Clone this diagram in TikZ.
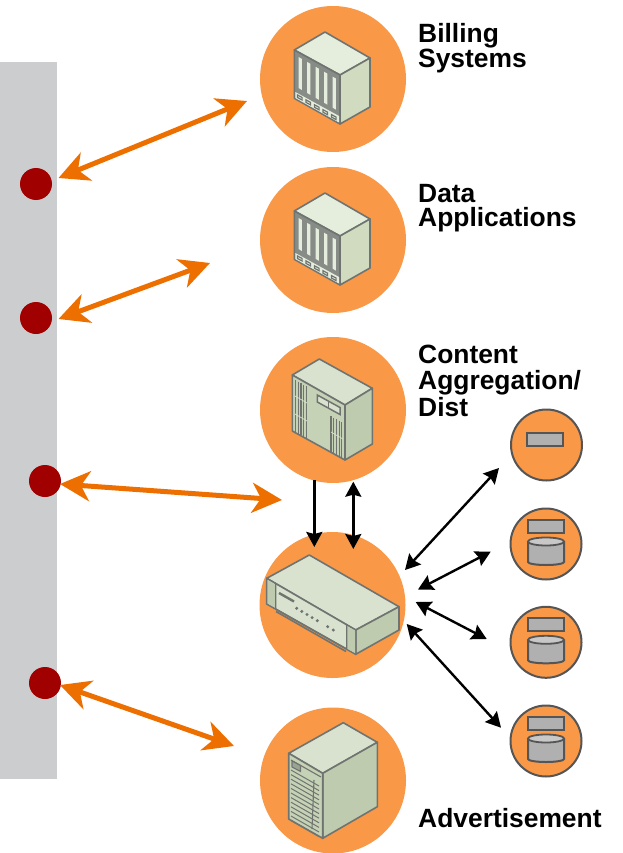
\documentclass[tikz,border=0pt]{standalone}
\usepackage{fontspec}
\setmainfont{Liberation Sans}
\usetikzlibrary{arrows.meta}
\definecolor{orangeC}{HTML}{F99846}
\definecolor{arrowO}{HTML}{EC6F00}
\definecolor{barG}{HTML}{CCCDCF}
\definecolor{dotR}{HTML}{A00000}
\definecolor{edgeG}{HTML}{707471}
\definecolor{topA}{HTML}{E5EEDD}
\definecolor{sideA}{HTML}{D0DBBF}
\definecolor{topB}{HTML}{D9E2CF}
\definecolor{sideB}{HTML}{BECBAE}
\definecolor{frontB}{HTML}{C6D2B5}
\definecolor{miniG}{HTML}{B0B0B0}
\definecolor{miniE}{HTML}{555555}
\tikzset{
  x=1pt,y=-1pt,
  bigdisc/.style={circle,fill=orangeC,minimum size=146pt,inner sep=0pt},
  smalldisc/.style={circle,fill=orangeC,draw=miniE,line width=2pt,minimum size=71pt,inner sep=0pt},
  reddot/.style={circle,fill=dotR,minimum size=32pt,inner sep=0pt},
  label/.style={anchor=north west,align=left,inner sep=0pt,font=\fontsize{26.4}{24}\selectfont\bfseries},
  oarrow/.style={draw=arrowO,line width=5pt,{Stealth[length=30pt,width=30pt,inset=9pt]}-{Stealth[length=30pt,width=30pt,inset=9pt]}},
  karrow/.style={draw=black,line width=2.4pt,{Stealth[length=15pt,width=16pt,inset=2pt]}-{Stealth[length=15pt,width=16pt,inset=2pt]}},
  karrowone/.style={draw=black,line width=2.7pt,-{Stealth[length=15pt,width=16pt,inset=2pt]}},
  boxedge/.style={draw=edgeG,line width=1.6pt,line join=round},
  minibox/.style={draw=miniE,fill=miniG,line width=2pt},
}
\newcommand{\bladeserver}[2]{%
\begin{scope}[shift={(#1,#2)}]
  \path[boxedge,fill=topA] (325,32) -- (294.3,50) -- (340,75) -- (370,58) -- cycle;
  \path[boxedge,fill=sideA] (340,75) -- (370,58) -- (370,107) -- (340,124) -- cycle;
  \path[boxedge,fill=edgeG!80!topA] (294.3,50) -- (340,75) -- (340,124) -- (294.3,98.3) -- cycle;
  \fill[topA] (295.3,92) -- (339,116) -- (339,122.5) -- (295.3,98) -- cycle;
  \foreach \i in {0,...,4} {
    \pgfmathsetmacro{\xa}{298.5+\i*8.5}
    \pgfmathsetmacro{\ya}{57+\i*4.9}
    \fill[topA] (\xa,\ya) -- (\xa+3.4,\ya+1.9) -- (\xa+3.4,\ya+33) -- (\xa,\ya+31) -- cycle;
    \draw[edgeG,line width=1.2pt] (\xa-1,\ya+38) -- (\xa+3.6,\ya+40.5) -- (\xa+3.6,\ya+43) -- (\xa-1,\ya+40.5) -- cycle;
  }
\end{scope}}
\newcommand{\minirack}[2]{%
  \draw[minibox] (#1-18,#2-24) rectangle (#1+18,#2-11.5);
  \draw[minibox] (#1-18,#2-2.5) -- (#1-18,#2+18) arc[start angle=180,end angle=360,x radius=18,y radius=-3] -- (#1+18,#2-2.5);
  \draw[draw=miniE,line width=1.8pt,fill=miniG!70!white] (#1,#2-2.5) ellipse[x radius=18,y radius=4];
}
\begin{document}
\begin{tikzpicture}
\useasboundingbox (0,0) rectangle (622,853);
\fill[barG] (0,62) rectangle (57,779);

\node[bigdisc] (disc1) at (333,79) {};
\node[bigdisc] (disc2) at (333,240) {};
\node[bigdisc] (disc3) at (333,410) {};
\node[bigdisc] (disc4) at (332.5,605) {};
\node[bigdisc] (disc5) at (333,780.5) {};

\bladeserver{0}{0}
\bladeserver{0}{161}

% content server
\path[boxedge,fill=topB] (319.3,359) -- (292.3,375) -- (345,405) -- (372.3,388.3) -- cycle;
\path[boxedge,fill=sideB] (345,405) -- (372.3,388.3) -- (372.3,444) -- (345,460) -- cycle;
\path[boxedge,fill=frontB] (292.3,375) -- (345,405) -- (345,460) -- (292.3,431) -- cycle;
\foreach \i in {0,...,4} {
  \draw[edgeG,line width=1.2pt] (295.5+\i*2.7,380+\i*1.5) -- (295.5+\i*2.7,432+\i*1.5);
  \draw[edgeG,line width=1.2pt] (331+\i*2.7,416+\i*1.5) -- (331+\i*2.7,452+\i*1.5);
}
\draw[topB,line width=.7pt] (295,396) -- (307,403);
\draw[topB,line width=.7pt] (295,414) -- (307,421);
\draw[topB,line width=.7pt] (331,432) -- (343,439);
\draw[edgeG,line width=1.5pt,fill=topB] (317.3,395) -- (340,407.5) -- (340,414.5) -- (317.3,402) -- cycle;
\draw[edgeG,line width=1.5pt] (328.5,401) -- (328.5,408);

% switch
\path[boxedge,fill=topB] (309.3,555) -- (266.7,578.3) -- (355.7,630) -- (399,606.7) -- cycle;
\path[boxedge,fill=sideB] (355.7,630) -- (399,606.7) -- (399,630) -- (355.7,654.3) -- cycle;
\path[boxedge,fill=topB] (266.7,578.3) -- (355.7,630) -- (355.7,654.3) -- (266.7,604) -- cycle;
\fill[sideB] (267.5,580) -- (275.7,585) -- (275.7,608) -- (267.5,603.5) -- cycle;
\fill[sideB] (346.7,626) -- (355,630.5) -- (355,653) -- (346.7,648.5) -- cycle;
\draw[edgeG,line width=1.4pt] (275.7,584) -- (275.7,609) -- (346.7,649) -- (346.7,625);
\draw[edgeG,line width=2.4pt] (279,593) -- (294,601.5);
\draw[edgeG,line width=1.6pt] (276,611.5) -- (346,651.5);
\foreach \i in {0,...,4} { \fill[edgeG] (296.7+\i*5.15,608.3+\i*3.1) circle[radius=1.7]; }
\fill[edgeG] (327.7,626.7) circle[radius=1.7];
\fill[edgeG] (333.3,630) circle[radius=1.7];

% advertisement server
\path[boxedge,fill=topB] (343.3,722.7) -- (288.7,753.3) -- (322.7,773.3) -- (377.3,742.3) -- cycle;
\path[boxedge,fill=sideB] (322.7,773.3) -- (377.3,742.3) -- (377.3,806.7) -- (322.7,838.3) -- cycle;
\path[boxedge,fill=frontB] (288.7,753.3) -- (322.7,773.3) -- (322.7,838.3) -- (288.7,819) -- cycle;
\draw[edgeG,line width=1.1pt] (291,760) -- (321,777);
\draw[edgeG,line width=1.1pt,fill=edgeG!50!frontB] (292,761) -- (292,767) -- (300.5,771.5) -- (300.5,765.5) -- cycle;
\foreach \i in {0,...,11} {
  \draw[edgeG,line width=1pt] (291,770+\i*4.6) -- (319,786+\i*4.6);
}
\draw[edgeG,line width=1.1pt] (314,780) -- (312,829);

% small discs
\node[smalldisc] (mini1) at (546.5,445) {};
\node[smalldisc] (mini2) at (546,544) {};
\node[smalldisc] (mini3) at (546,642.3) {};
\node[smalldisc] (mini4) at (546,741) {};
\draw[minibox] (527,432.7) rectangle (562.5,446);
\minirack{546}{544}
\minirack{546}{642.3}
\minirack{546}{741}

% red dots
\node[reddot] (dot1) at (36,184) {};
\node[reddot] (dot2) at (36,318) {};
\node[reddot] (dot3) at (45,481) {};
\node[reddot] (dot4) at (45,683) {};

% connector ends
\coordinate (o1a) at (58.5,178); \coordinate (o1b) at (247,101);
\coordinate (o2a) at (58.5,319); \coordinate (o2b) at (210,263);
\coordinate (o3a) at (60,484); \coordinate (o3b) at (282,500);
\coordinate (o4a) at (60,685); \coordinate (o4b) at (234,746);
\draw[oarrow] (o1a) -- (o1b);
\draw[oarrow] (o2a) -- (o2b);
\draw[oarrow] (o3a) -- (o3b);
\draw[oarrow] (o4a) -- (o4b);

\coordinate (k1a) at (314.3,480); \coordinate (k1b) at (314.3,547);
\coordinate (k2a) at (353.3,549); \coordinate (k2b) at (353.3,481.7);
\coordinate (k3a) at (405,570); \coordinate (k3b) at (499,468);
\coordinate (k4a) at (418,589.5); \coordinate (k4b) at (490.7,551.7);
\coordinate (k5a) at (415.7,602); \coordinate (k5b) at (486.7,639);
\coordinate (k6a) at (406.7,624); \coordinate (k6b) at (501,727.7);
\draw[karrowone] (k1a) -- (k1b);
\draw[karrow] (k2a) -- (k2b);
\draw[karrow] (k3a) -- (k3b);
\draw[karrow] (k4a) -- (k4b);
\draw[karrow] (k5a) -- (k5b);
\draw[karrow] (k6a) -- (k6b);

% labels
\node[label] (t1) at (418,23.5) {Billing\\Systems};
\node[label] (t2) at (418,184.5) {Data\\Applications};
\node[label] (t3) at (418,344.5) {Content\\[2pt]Aggregation/\\[2pt]Dist};
\node[label] (t4) at (418,808.5) {Advertisement};
\end{tikzpicture}
\end{document}
